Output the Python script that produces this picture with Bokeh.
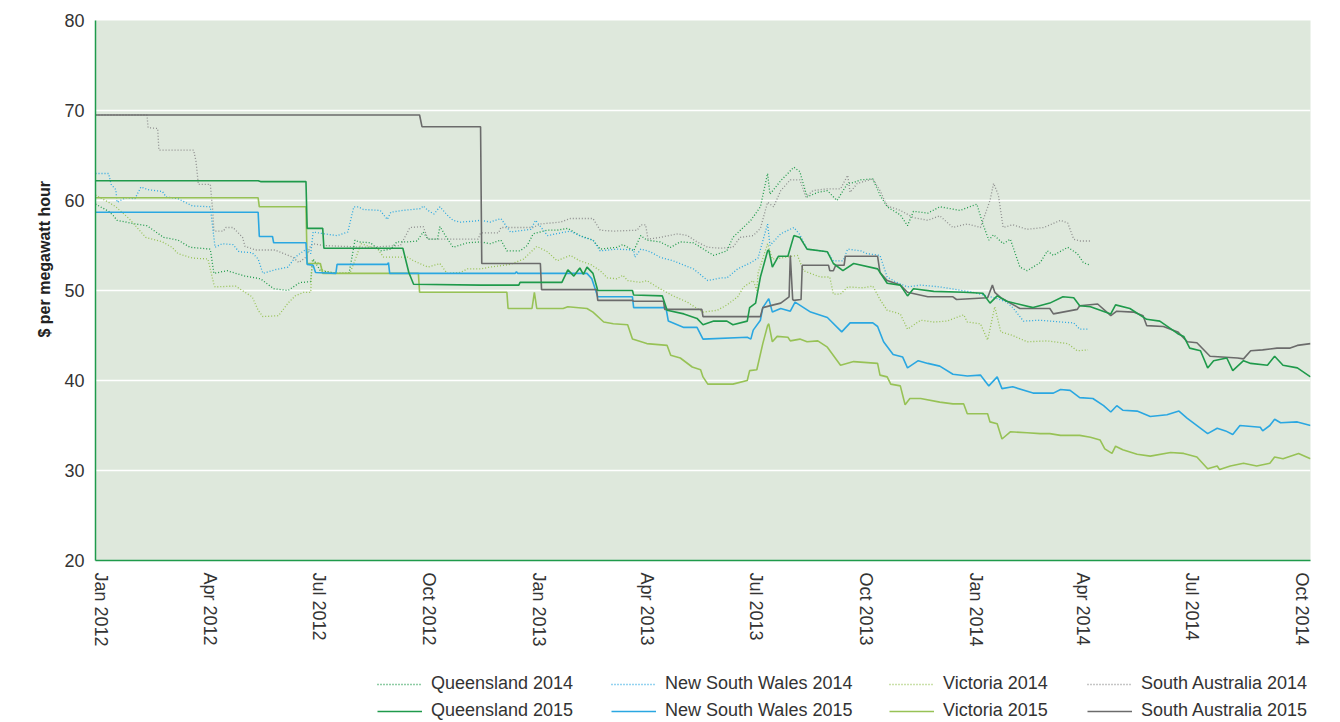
import math
import pandas as pd
from bokeh.plotting import figure
from bokeh.layouts import column
from bokeh.models import (FixedTicker, Legend, LegendItem, Range1d, Title)
from bokeh.embed import file_html
from bokeh.resources import INLINE

START = "2012-01-01"
END = "2014-10-13"

# ---- data: day offsets from START and $/MWh values ----
qld14_day = [0, 11, 15, 18, 33, 43, 57, 69, 79, 96, 99, 110, 125, 138, 149, 161, 171, 174, 180, 181, 182, 188, 202, 212, 215, 217, 220, 230, 238, 247, 252, 261, 269, 274, 278, 286, 288, 294, 299, 311, 322, 330, 339, 344, 355, 361, 366, 372, 378, 386, 395, 405, 416, 422, 436, 441, 450, 456, 461, 472, 481, 489, 500, 512, 517, 528, 533, 548, 556, 562, 564, 573, 584, 589, 595, 604, 612, 620, 629, 634, 640, 650, 656, 662, 673, 679, 684, 696, 706, 723, 737, 742, 747, 751, 759, 765, 773, 779, 790, 796, 801, 813, 821, 826, 832]
qld14_val = [59.6, 58.8, 58.3, 57.8, 57.4, 57.2, 55.9, 55.6, 54.8, 54.6, 51.9, 52.2, 51.6, 51.3, 50.2, 50.0, 50.9, 50.9, 51.0, 52.6, 53.5, 52.2, 51.9, 51.9, 54.1, 55.6, 55.4, 55.3, 54.4, 54.6, 55.4, 55.4, 55.5, 56.5, 55.7, 55.7, 57.1, 55.8, 54.8, 55.3, 55.4, 55.2, 55.6, 54.4, 54.4, 55.0, 56.3, 56.5, 56.7, 56.7, 56.9, 56.1, 55.6, 54.6, 54.8, 55.1, 54.4, 56.1, 55.6, 55.4, 54.8, 55.4, 55.3, 54.3, 53.9, 54.4, 55.9, 57.8, 59.3, 63.0, 60.7, 62.2, 63.7, 63.2, 60.4, 60.9, 61.1, 60.0, 61.9, 62.0, 62.3, 62.4, 60.6, 59.3, 58.4, 57.2, 58.8, 58.6, 59.3, 58.9, 59.6, 57.4, 55.6, 56.2, 55.2, 55.7, 52.6, 52.2, 53.1, 54.4, 53.9, 54.8, 54.1, 53.1, 52.8]

nsw14_day = [0, 11, 13, 17, 18, 25, 33, 38, 44, 56, 59, 69, 81, 96, 98, 100, 106, 115, 120, 131, 136, 140, 150, 161, 167, 174, 177, 180, 182, 191, 202, 211, 216, 220, 224, 238, 244, 247, 257, 272, 274, 278, 283, 288, 294, 299, 305, 316, 322, 330, 339, 347, 364, 368, 378, 389, 397, 408, 416, 422, 436, 450, 451, 456, 464, 472, 483, 500, 512, 523, 528, 537, 548, 554, 562, 564, 573, 584, 589, 595, 612, 617, 625, 629, 640, 645, 656, 662, 670, 679, 690, 706, 734, 754, 762, 767, 776, 790, 807, 818, 823, 830]
nsw14_val = [63.0, 63.0, 61.8, 61.2, 59.8, 60.3, 60.2, 61.5, 61.2, 61.0, 60.4, 60.2, 59.4, 59.3, 57.0, 54.8, 55.2, 55.1, 54.3, 54.2, 53.5, 51.9, 52.3, 52.6, 53.7, 54.4, 54.6, 54.1, 56.5, 56.3, 56.1, 56.5, 59.3, 59.3, 59.0, 58.9, 57.9, 58.7, 58.9, 59.1, 59.4, 58.9, 58.5, 59.3, 58.4, 57.8, 57.6, 57.7, 57.8, 57.6, 58.0, 56.5, 56.8, 57.8, 56.1, 56.4, 56.6, 55.9, 55.6, 54.4, 54.6, 54.5, 53.7, 54.6, 54.3, 53.7, 53.3, 52.4, 51.1, 51.4, 51.4, 52.4, 53.1, 53.6, 57.4, 55.0, 56.3, 57.0, 56.2, 54.6, 54.3, 53.3, 53.3, 54.6, 54.4, 54.1, 53.9, 51.5, 50.9, 50.4, 50.6, 50.4, 49.8, 49.1, 48.7, 48.1, 46.6, 46.7, 46.5, 46.4, 45.7, 45.7]

vic14_day = [0, 11, 17, 28, 42, 56, 64, 69, 81, 94, 99, 100, 117, 125, 131, 136, 140, 153, 161, 167, 174, 180, 181, 188, 190, 202, 213, 216, 222, 236, 241, 261, 266, 278, 288, 294, 305, 311, 322, 330, 347, 358, 369, 378, 386, 397, 405, 414, 422, 428, 436, 441, 445, 456, 461, 472, 483, 495, 503, 508, 520, 528, 537, 542, 550, 553, 554, 562, 566, 573, 587, 592, 606, 614, 617, 623, 629, 642, 650, 656, 662, 673, 679, 690, 701, 712, 726, 729, 740, 746, 752, 757, 767, 779, 796, 813, 821, 830]
vic14_val = [60.6, 59.8, 59.3, 58.0, 55.9, 55.4, 54.8, 54.1, 53.6, 53.5, 50.7, 50.4, 50.5, 49.8, 49.3, 47.8, 47.1, 47.2, 48.6, 49.4, 49.8, 49.8, 53.3, 53.0, 52.2, 51.9, 52.0, 53.0, 55.2, 54.6, 53.7, 53.7, 53.3, 52.6, 53.0, 51.9, 52.0, 52.4, 52.4, 52.6, 52.9, 53.5, 54.9, 54.3, 53.3, 53.9, 53.3, 52.9, 52.2, 51.4, 51.3, 51.7, 51.1, 50.9, 51.1, 50.2, 49.4, 48.7, 48.0, 47.6, 47.8, 48.4, 49.3, 50.4, 51.1, 50.0, 51.9, 55.2, 53.5, 53.6, 53.9, 52.2, 51.5, 51.5, 49.6, 49.6, 50.4, 50.3, 50.5, 49.0, 47.8, 47.4, 45.7, 46.7, 46.5, 46.6, 47.3, 46.5, 46.3, 44.5, 48.2, 45.4, 45.0, 44.3, 44.4, 44.1, 43.3, 43.4]

sa14_day = [0, 43, 44, 52, 53, 82, 84, 86, 96, 98, 99, 107, 109, 115, 123, 125, 134, 150, 165, 170, 176, 180, 182, 190, 227, 255, 263, 274, 278, 320, 322, 337, 339, 366, 372, 389, 397, 416, 422, 433, 453, 456, 460, 462, 472, 487, 495, 503, 512, 523, 533, 539, 550, 556, 562, 567, 573, 581, 589, 594, 600, 612, 623, 629, 631, 637, 650, 656, 662, 673, 684, 696, 706, 717, 729, 740, 748, 751, 755, 759, 767, 779, 793, 807, 813, 818, 823, 832]
sa14_val = [69.5, 69.5, 68.1, 68.0, 65.6, 65.6, 64.4, 61.8, 61.8, 58.9, 56.6, 56.6, 57.0, 57.0, 55.9, 54.9, 54.5, 54.5, 53.7, 53.1, 53.7, 55.0, 55.2, 55.0, 54.8, 55.0, 57.0, 57.1, 55.7, 55.7, 56.4, 56.4, 57.0, 57.0, 57.4, 57.6, 58.0, 58.0, 56.7, 56.6, 56.7, 57.3, 57.3, 55.7, 55.9, 56.3, 56.1, 55.4, 54.8, 54.7, 54.8, 55.9, 56.1, 56.9, 59.8, 59.3, 61.1, 62.3, 62.3, 60.4, 61.1, 61.3, 61.3, 62.8, 60.9, 61.9, 62.4, 61.1, 59.4, 58.9, 58.1, 57.8, 58.3, 57.0, 57.4, 57.0, 60.0, 61.9, 60.6, 57.0, 57.3, 56.8, 57.0, 57.8, 57.5, 55.7, 55.5, 55.5]

qld15_day = [0, 136, 138, 176, 177, 190, 191, 257, 262, 266, 322, 354, 355, 390, 395, 400, 405, 408, 411, 416, 420, 449, 450, 474, 478, 492, 503, 508, 517, 528, 533, 545, 547, 552, 556, 562, 563, 566, 571, 579, 584, 589, 595, 612, 617, 625, 634, 654, 662, 673, 679, 684, 701, 726, 742, 748, 754, 762, 784, 798, 809, 818, 823, 832, 849, 853, 865, 879, 890, 905, 910, 915, 924, 930, 935, 946, 951, 960, 966, 980, 986, 993, 1005, 1016]
qld15_val = [62.2, 62.2, 62.1, 62.1, 56.9, 56.9, 54.7, 54.7, 52.0, 50.7, 50.6, 50.6, 50.9, 50.9, 52.3, 51.6, 52.5, 51.8, 52.6, 51.9, 50.0, 50.0, 49.5, 49.4, 47.8, 47.4, 46.9, 46.2, 46.6, 46.6, 46.2, 46.6, 48.1, 48.6, 51.5, 54.4, 54.5, 52.6, 53.8, 53.8, 56.1, 55.9, 54.6, 54.3, 53.0, 52.2, 53.0, 52.4, 50.8, 50.6, 49.4, 50.2, 49.9, 49.8, 49.7, 48.6, 49.4, 48.8, 48.1, 48.6, 49.3, 49.2, 48.3, 48.2, 47.4, 48.4, 48.0, 46.8, 46.6, 45.2, 44.9, 43.6, 43.3, 41.4, 42.2, 42.5, 41.1, 42.2, 41.9, 41.7, 42.7, 41.7, 41.4, 40.4]

nsw15_day = [0, 136, 137, 148, 149, 176, 177, 182, 184, 201, 202, 244, 245, 246, 351, 352, 353, 411, 415, 420, 449, 450, 477, 479, 492, 503, 508, 545, 548, 550, 556, 558, 563, 566, 573, 581, 585, 598, 612, 624, 631, 640, 650, 654, 659, 667, 675, 679, 688, 696, 706, 717, 729, 740, 747, 754, 758, 767, 784, 801, 807, 815, 823, 834, 843, 849, 854, 859, 871, 882, 896, 906, 913, 930, 938, 945, 951, 957, 974, 976, 982, 986, 991, 1005, 1016]
nsw15_val = [58.7, 58.7, 56.0, 56.0, 55.3, 55.3, 52.9, 52.8, 52.0, 51.9, 52.9, 52.9, 53.1, 51.9, 51.9, 52.1, 51.9, 51.9, 51.3, 49.3, 49.3, 48.1, 48.1, 46.6, 45.9, 45.9, 44.6, 44.8, 44.6, 45.6, 46.7, 48.1, 49.1, 47.6, 48.0, 47.7, 48.7, 47.6, 47.0, 45.4, 46.4, 46.4, 46.4, 46.0, 44.3, 42.9, 42.6, 41.4, 42.2, 41.9, 41.6, 40.7, 40.5, 40.6, 39.4, 40.4, 39.1, 39.3, 38.6, 38.6, 39.0, 38.9, 38.1, 38.0, 37.2, 36.5, 37.2, 36.7, 36.6, 36.0, 36.2, 36.6, 35.8, 34.1, 34.7, 34.4, 34.0, 35.0, 34.8, 34.4, 35.0, 35.7, 35.3, 35.4, 35.0]

vic15_day = [0, 136, 137, 176, 177, 188, 190, 270, 271, 344, 345, 365, 367, 369, 391, 395, 411, 416, 425, 433, 445, 449, 461, 478, 481, 489, 499, 506, 508, 512, 533, 545, 547, 553, 558, 562, 563, 566, 570, 579, 581, 589, 595, 604, 612, 623, 634, 654, 656, 662, 665, 673, 677, 681, 690, 706, 717, 726, 729, 746, 748, 754, 758, 765, 779, 790, 798, 807, 823, 832, 840, 844, 850, 853, 859, 871, 882, 899, 910, 921, 930, 938, 940, 949, 960, 971, 982, 986, 993, 1006, 1016]
vic15_val = [60.3, 60.3, 59.3, 59.3, 53.0, 53.0, 51.9, 51.9, 49.8, 49.8, 48.0, 48.0, 49.8, 48.0, 48.0, 48.2, 48.0, 47.6, 46.5, 46.3, 46.2, 44.6, 44.1, 43.9, 42.8, 42.5, 41.5, 41.2, 40.4, 39.6, 39.6, 40.0, 41.1, 41.2, 44.1, 46.1, 46.3, 44.3, 44.9, 44.8, 44.4, 44.6, 44.3, 44.4, 43.7, 41.7, 42.1, 41.9, 40.6, 40.4, 39.6, 39.4, 37.3, 38.0, 38.0, 37.6, 37.4, 37.4, 36.3, 36.3, 35.4, 35.2, 33.5, 34.3, 34.2, 34.1, 34.1, 33.9, 33.9, 33.7, 33.4, 32.4, 31.9, 32.7, 32.3, 31.8, 31.6, 32.0, 31.9, 31.5, 30.2, 30.5, 30.1, 30.5, 30.8, 30.5, 30.8, 31.5, 31.3, 31.9, 31.3]

sa15_day = [0, 271, 273, 322, 323, 372, 373, 419, 420, 449, 450, 475, 476, 507, 508, 556, 558, 567, 573, 580, 581, 583, 584, 590, 591, 613, 614, 617, 619, 626, 627, 654, 656, 662, 673, 679, 696, 717, 720, 746, 750, 752, 757, 773, 798, 801, 821, 823, 838, 849, 854, 868, 876, 879, 893, 905, 913, 921, 932, 955, 960, 966, 976, 988, 999, 1005, 1016]
sa15_val = [69.5, 69.5, 68.2, 68.2, 53.0, 53.0, 50.1, 50.1, 48.9, 48.9, 48.8, 48.8, 47.9, 47.9, 47.1, 47.1, 48.1, 48.4, 48.6, 49.3, 53.9, 49.0, 48.9, 49.0, 52.8, 52.8, 52.2, 52.2, 52.8, 52.8, 53.8, 53.8, 52.0, 51.1, 50.6, 49.8, 49.3, 49.3, 49.0, 49.2, 50.6, 49.8, 49.2, 48.0, 48.0, 47.4, 47.9, 48.3, 48.5, 47.2, 47.7, 47.6, 47.2, 46.1, 46.0, 45.4, 44.3, 44.2, 42.7, 42.5, 42.4, 43.3, 43.4, 43.6, 43.6, 43.9, 44.1]

tick_dates = ["2012-01-01", "2012-04-01", "2012-07-01", "2012-10-01",
              "2013-01-01", "2013-04-01", "2013-07-01", "2013-10-01",
              "2014-01-01", "2014-04-01", "2014-07-01", "2014-10-01"]
tick_labels = ["Jan 2012", "Apr 2012", "Jul 2012", "Oct 2012",
               "Jan 2013", "Apr 2013", "Jul 2013", "Oct 2013",
               "Jan 2014", "Apr 2014", "Jul 2014", "Oct 2014"]
y_ticks = [20, 30, 40, 50, 60, 70, 80]

QLD = "#1f9a4b"
NSW = "#2aa7e1"
VIC = "#97c256"
SA = "#6b6b6b"
SA_DOT = "#8e8e8e"
FONT = "Liberation Sans"
TXT = "#333333"
LABEL_SHIFT_DAYS = 5   # labels sit slightly right of the quarter start in the original


def to_dates(days):
    return pd.Timestamp(START) + pd.to_timedelta(days, unit="D")


p = figure(width=1330, height=660, x_axis_type="datetime",
           output_backend="svg", toolbar_location=None,
           x_range=Range1d(pd.Timestamp(START), pd.Timestamp(END)),
           y_range=Range1d(20, 80),
           min_border_left=95, min_border_right=20, min_border_top=20,
           min_border_bottom=100)
p.background_fill_color = "#dee8dc"
p.border_fill_color = "white"
p.outline_line_color = None
p.xgrid.visible = False
p.ygrid.grid_line_color = "white"
p.ygrid.grid_line_width = 1.5
p.ygrid.ticker = FixedTicker(ticks=y_ticks)

series = [
    ("Queensland 2014", qld14_day, qld14_val, QLD, "dot"),
    ("New South Wales 2014", nsw14_day, nsw14_val, NSW, "dot"),
    ("Victoria 2014", vic14_day, vic14_val, VIC, "dot"),
    ("South Australia 2014", sa14_day, sa14_val, SA_DOT, "dot"),
    ("Queensland 2015", qld15_day, qld15_val, QLD, "solid"),
    ("New South Wales 2015", nsw15_day, nsw15_val, NSW, "solid"),
    ("Victoria 2015", vic15_day, vic15_val, VIC, "solid"),
    ("South Australia 2015", sa15_day, sa15_val, SA, "solid"),
]


def style_kw(col, style):
    if style == "dot":
        return dict(line_color=col, line_width=1.3, line_dash="1 2")
    return dict(line_color=col, line_width=1.6)


for i in [3, 0, 1, 2, 6, 5, 7, 4]:
    name, d, v, col, style = series[i]
    p.line(to_dates(d), v, **style_kw(col, style))

# axes
tick_ms = [(pd.Timestamp(t) + pd.Timedelta(days=LABEL_SHIFT_DAYS)).value // 10**6 for t in tick_dates]
p.xaxis.ticker = FixedTicker(ticks=tick_ms)
p.xaxis.major_label_overrides = {ms: lab for ms, lab in zip(tick_ms, tick_labels)}
p.xaxis.major_label_orientation = -math.pi / 2
p.yaxis.ticker = FixedTicker(ticks=y_ticks)
for ax in (p.xaxis, p.yaxis):
    ax.axis_line_color = QLD
    ax.axis_line_width = 1.5
    ax.major_tick_line_color = None
    ax.minor_tick_line_color = None
    ax.major_label_text_font = FONT
    ax.major_label_text_font_size = "18px"
    ax.major_label_text_color = TXT
p.yaxis.major_label_standoff = 5
p.xaxis.major_label_standoff = 6

ytitle = Title(text="$ per megawatt hour", align="left", offset=223,
               text_font=FONT, text_font_size="16px", text_font_style="bold",
               text_color="#222222", standoff=17)
p.add_layout(ytitle, "left")

# ---- legend in a separate strip below the chart ----
p2 = figure(width=1330, height=62, output_backend="svg", toolbar_location=None,
            x_axis_type="datetime",
            x_range=Range1d(pd.Timestamp(START), pd.Timestamp(END)),
            y_range=Range1d(0, 1),
            x_axis_location=None, y_axis_location=None,
            min_border=0)
p2.grid.visible = False
p2.outline_line_color = None
p2.background_fill_color = "white"
p2.border_fill_color = "white"

col_x = [282, 516, 794, 992]
for k in range(4):
    pair = [series[k], series[k + 4]]
    items = []
    for name, d, v, col, style in pair:
        # same series, drawn out of this strip's view, only used for the legend swatch
        r = p2.line(to_dates(d), v, **style_kw(col, style))
        items.append(LegendItem(label=name, renderers=[r]))
    lg = Legend(items=items, orientation="vertical", location=(col_x[k], 1),
                margin=0, padding=0, border_line_color=None,
                background_fill_alpha=0,
                label_text_font=FONT, label_text_font_size="18px",
                label_text_color=TXT, glyph_width=45, glyph_height=20,
                label_height=20, label_standoff=9, spacing=6)
    p2.add_layout(lg, "center")

open("out.html", "w").write(file_html(column(p, p2), INLINE))
